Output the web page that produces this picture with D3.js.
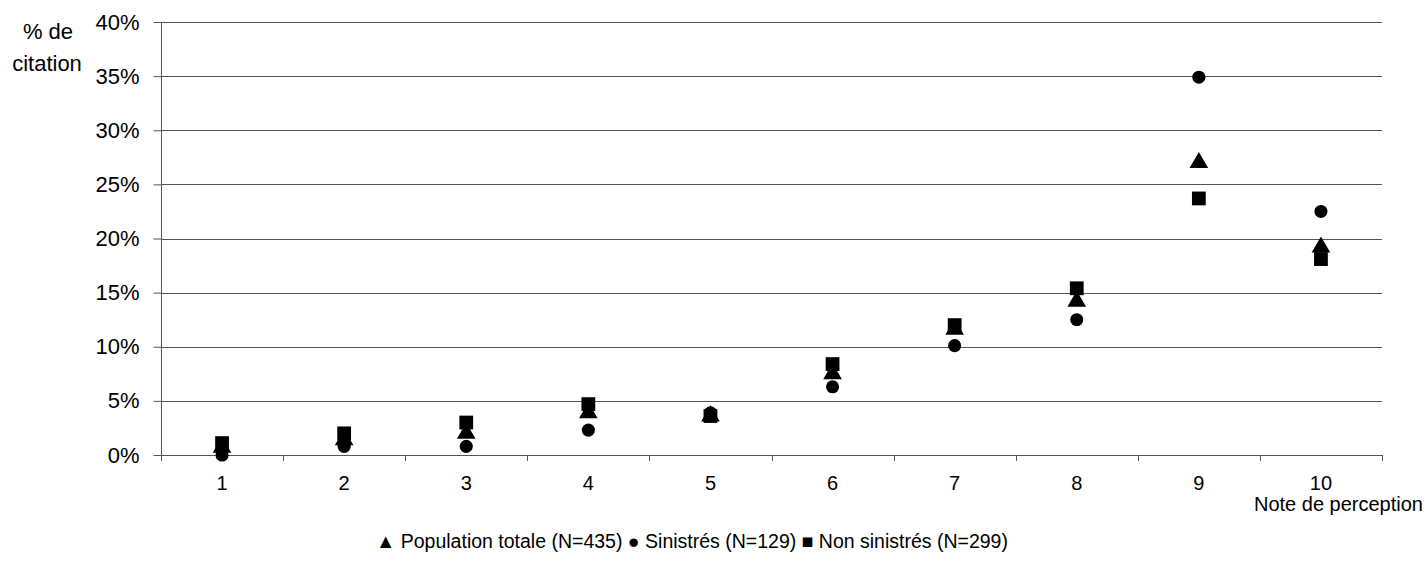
<!DOCTYPE html>
<html>
<head>
<meta charset="utf-8">
<script src="https://cdn.jsdelivr.net/npm/d3@7"></script>
<style>
  body { margin: 0; background: #fff; }
  text { font-family: "Liberation Sans", Arial, sans-serif; fill: #000; }
</style>
</head>
<body>
<div id="chart"></div>
<script>
// note de perception 1..10
var notes = ["1", "2", "3", "4", "5", "6", "7", "8", "9", "10"];

// % de citation per group
var population = [0.7, 1.4, 2.0, 3.9, 3.6, 7.5, 11.6, 14.2, 27.0, 19.2];
var sinistres = [0.0, 0.8, 0.8, 2.3, 3.9, 6.3, 10.1, 12.5, 34.9, 22.5];
var nonSinistres = [1.1, 2.0, 3.0, 4.7, 3.6, 8.4, 12.0, 15.4, 23.7, 18.1];

var yTicks = [0, 5, 10, 15, 20, 25, 30, 35, 40];

var series = [
  {name: "Population totale (N=435)", values: population, symbol: d3.symbolTriangle, size: 150, glyph: "\u25B2"},
  {name: "Sinistrés (N=129)", values: sinistres, symbol: d3.symbolCircle, size: 135, glyph: "\u25CF"},
  {name: "Non sinistrés (N=299)", values: nonSinistres, symbol: d3.symbolSquare, size: 190, glyph: "\u25A0"}
];

var W = 1428, H = 565;
var margin = {left: 161, right: 46, top: 22, bottom: 110};

var svg = d3.select("#chart")
  .append("svg")
  .attr("width", W)
  .attr("height", H);

// scales
var x = d3.scaleBand()
  .domain(notes)
  .range([margin.left, W - margin.right]);

var y = d3.scaleLinear()
  .domain([0, 40])
  .range([H - margin.bottom, margin.top]);

// grid lines
svg.append("g").selectAll("line")
  .data(yTicks)
  .enter()
  .append("line")
  .attr("x1", margin.left)
  .attr("x2", W - margin.right)
  .attr("y1", function(d) { return Math.round(y(d)) + 0.5; })
  .attr("y2", function(d) { return Math.round(y(d)) + 0.5; })
  .attr("stroke", "#555")
  .attr("stroke-width", 1);

// y axis
var yAxis = svg.append("g")
  .attr("transform", "translate(" + (margin.left + 0.5) + ",0)")
  .call(d3.axisLeft(y).tickValues(yTicks).tickSize(8).tickPadding(14)
    .tickFormat(function(d) { return d + "%"; }));
yAxis.select(".domain").remove();
yAxis.selectAll(".tick line").attr("stroke", "#555");
yAxis.selectAll("text")
  .attr("font-size", 22)
  .attr("fill", "#000");

svg.append("line")
  .attr("x1", margin.left + 0.5)
  .attr("x2", margin.left + 0.5)
  .attr("y1", margin.top)
  .attr("y2", H - margin.bottom + 5)
  .attr("stroke", "#555");

// x axis labels
var xAxis = svg.append("g")
  .attr("transform", "translate(0," + (H - margin.bottom) + ")")
  .call(d3.axisBottom(x).tickSize(0).tickPadding(21));
xAxis.select(".domain").remove();
xAxis.selectAll("text")
  .attr("font-size", 20)
  .attr("fill", "#000");

// x tick marks between categories
var bounds = notes.map(function(d) { return x(d); }).concat([x(notes[notes.length - 1]) + x.bandwidth()]);
svg.append("g").selectAll("line")
  .data(bounds)
  .enter()
  .append("line")
  .attr("x1", function(d) { return Math.round(d) + 0.5; })
  .attr("x2", function(d) { return Math.round(d) + 0.5; })
  .attr("y1", y(0))
  .attr("y2", y(0) + 6)
  .attr("stroke", "#555");

// axis titles
svg.append("text")
  .attr("x", 48)
  .attr("y", 39)
  .attr("text-anchor", "middle")
  .attr("font-size", 22)
  .text("% de");
svg.append("text")
  .attr("x", 47)
  .attr("y", 71)
  .attr("text-anchor", "middle")
  .attr("font-size", 22)
  .text("citation");

svg.append("text")
  .attr("x", 1423)
  .attr("y", 511)
  .attr("text-anchor", "end")
  .attr("font-size", 20)
  .text("Note de perception");

// points
series.forEach(function(s) {
  svg.append("g").selectAll("path")
    .data(s.values)
    .enter()
    .append("path")
    .attr("d", d3.symbol().type(s.symbol).size(s.size))
    .attr("transform", function(d, i) {
      return "translate(" + (x(notes[i]) + x.bandwidth() / 2) + "," + y(d) + ")";
    })
    .attr("fill", "#000");
});

// legend
svg.append("text")
  .attr("x", 692)
  .attr("y", 548)
  .attr("text-anchor", "middle")
  .attr("font-size", 19.5)
  .text(series.map(function(s) { return s.glyph + " " + s.name; }).join(" "));
</script>
</body>
</html>
